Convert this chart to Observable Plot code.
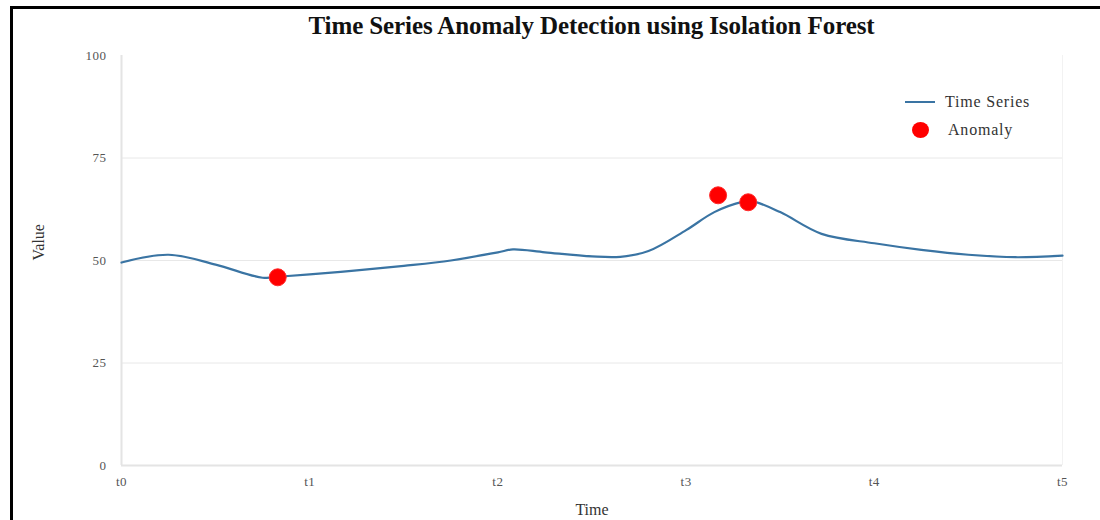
<!DOCTYPE html>
<html>
<head>
<meta charset="utf-8">
<script src="https://cdn.jsdelivr.net/npm/d3@7"></script>
<script src="https://cdn.jsdelivr.net/npm/@observablehq/plot@0.6"></script>
<style>
  html, body { margin: 0; padding: 0; background: #fff; }
  #wrap { position: relative; width: 1100px; height: 520px; overflow: hidden; font-family: "Liberation Serif", "DejaVu Serif", serif; }
  #frame { position: absolute; left: 10px; top: 6px; width: 1200px; height: 600px; border-top: 3px solid #000; border-left: 3px solid #000; pointer-events: none; }
  #title { position: absolute; left: 121px; width: 941px; top: 12px; text-align: center; font-weight: bold; font-size: 25px; letter-spacing: -0.1px; color: #111; }
  #legend { position: absolute; left: 905px; top: 88px; font-size: 16px; letter-spacing: 0.8px; color: #333; }
  .li { display: flex; align-items: center; height: 28px; }
  .sw-line { width: 30px; height: 2px; background: #3a74a3; margin-right: 10px; }
  .sw-dot { width: 17px; height: 16px; border-radius: 50%; background: #ff0000; margin: 0 19px 0 7px; }
  #chart svg g[aria-label="y-axis tick label"], #chart svg g[aria-label="x-axis tick label"] { font-size: 13px; letter-spacing: 0.5px; }
</style>
</head>
<body>
<div id="wrap">
  <div id="chart"></div>
  <div id="frame"></div>
  <div id="title">Time Series Anomaly Detection using Isolation Forest</div>
  <div id="legend">
    <div class="li"><div class="sw-line"></div><span>Time Series</span></div>
    <div class="li"><div class="sw-dot"></div><span>Anomaly</span></div>
  </div>
</div>
<script>
// Time series (t in units of the t0..t5 ticks)
const seriesT = [0, 0.25, 0.5, 0.75, 0.85, 1.0, 1.25, 1.5, 1.75, 2.0, 2.08, 2.25, 2.5, 2.65, 2.8, 3.0, 3.15, 3.3, 3.35, 3.5, 3.72, 4.0, 4.25, 4.5, 4.75, 5.0];
const seriesV = [49.5, 51.4, 49.0, 45.8, 46.1, 46.6, 47.6, 48.7, 50.0, 52.0, 52.7, 52.0, 51.0, 50.9, 52.3, 57.4, 61.8, 64.3, 64.5, 61.8, 56.5, 54.2, 52.6, 51.4, 50.8, 51.2];
// Anomalies
const anomalyT = [0.83, 3.17, 3.33];
const anomalyV = [45.9, 65.9, 64.2];
// Axes
const xTicks = [0, 1, 2, 3, 4, 5];
const xTickLabels = ["t0", "t1", "t2", "t3", "t4", "t5"];
const yTicks = [0, 25, 50, 75, 100];
const gridValues = [25, 50, 75];
const xLabel = "Time";
const yLabel = "Value";

const series = seriesT.map((t, i) => ({t, v: seriesV[i]}));
const anomalies = anomalyT.map((t, i) => ({t, v: anomalyV[i]}));

const plot = Plot.plot({
  width: 1100,
  height: 520,
  marginLeft: 121,
  marginRight: 38,
  marginTop: 55,
  marginBottom: 55,
  style: {fontFamily: "'Liberation Serif', 'DejaVu Serif', serif", fontSize: "13px", background: "transparent"},
  x: {domain: [0, 5]},
  y: {domain: [0, 100]},
  marks: [
    Plot.ruleY(gridValues, {stroke: "#e8e8e8", strokeWidth: 1}),
    Plot.ruleY([0], {stroke: "#e4e4e4", strokeWidth: 2}),
    Plot.ruleX([0], {stroke: "#e4e4e4", strokeWidth: 2}),
    Plot.ruleX([5], {stroke: "#f2f2f2", strokeWidth: 1}),
    Plot.axisY({ticks: yTicks, tickSize: 0, tickPadding: 15, fontSize: 13, color: "#555", label: null}),
    Plot.axisX({ticks: xTicks, tickFormat: (d) => xTickLabels[xTicks.indexOf(d)], tickSize: 0, tickPadding: 11, fontSize: 13, color: "#555", label: null}),
    Plot.text([yLabel], {text: (d) => d, frameAnchor: "left", dx: -83, rotate: -90, fontSize: 16, fill: "#333", style: {letterSpacing: "0.8px"}}),
    Plot.text([xLabel], {text: (d) => d, frameAnchor: "bottom", dy: 49, fontSize: 16, fill: "#333"}),
    Plot.line(series, {x: "t", y: "v", curve: "catmull-rom", stroke: "#3a74a3", strokeWidth: 2.2}),
    Plot.dot(anomalies, {x: "t", y: "v", r: 8.5, fill: "#ff0000", stroke: "#ff2a2a", strokeWidth: 1})
  ]
});
document.getElementById("chart").appendChild(plot);
</script>
</body>
</html>
